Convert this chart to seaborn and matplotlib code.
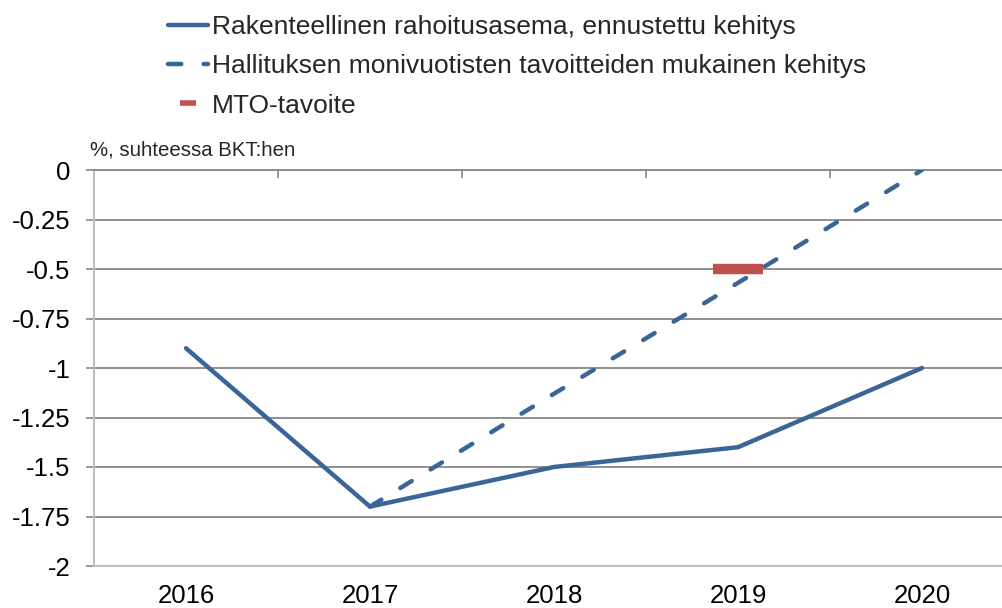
import matplotlib
matplotlib.use("Agg")
import matplotlib.pyplot as plt
from matplotlib.lines import Line2D
import pandas as pd
import seaborn as sns

years = [2016, 2017, 2018, 2019, 2020]
rakenteellinen = [-0.9, -1.7, -1.5, -1.4, -1.0]
tavoite_years = [2017, 2018, 2019, 2020]
tavoite = [-1.7, -1.13, -0.57, 0.0]
mto_year = [2019]
mto_value = [-0.5]

labels = [
    "Rakenteellinen rahoitusasema, ennustettu kehitys",
    "Hallituksen monivuotisten tavoitteiden mukainen kehitys",
    "MTO-tavoite",
]
ylabel = "%, suhteessa BKT:hen"

BLUE = "#3A6597"
RED = "#C0504D"
GRID = "#878787"
LIGHT = "#BFBFBF"
LW = 3.2

sns.set_theme(style="white")
plt.rcParams["font.family"] = ["Liberation Sans", "DejaVu Sans"]

fig = plt.figure(figsize=(10.03, 6.08), dpi=100)
ax = fig.add_axes([94 / 1003, 1 - 566 / 608, 1 - 94 / 1003, (566 - 170) / 608])

df1 = pd.DataFrame({"vuosi": years, "arvo": rakenteellinen})
df2 = pd.DataFrame({"vuosi": tavoite_years, "arvo": tavoite})

sns.lineplot(data=df1, x="vuosi", y="arvo", ax=ax, color=BLUE, lw=LW,
             solid_capstyle="round", solid_joinstyle="round", zorder=3)
sns.lineplot(data=df2, x="vuosi", y="arvo", ax=ax, color=BLUE, lw=LW,
             dashes=False, zorder=3)
dash_line = ax.get_lines()[-1]
dash_line.set_dashes((3.0, 5.0))
dash_line.set_dash_capstyle("round")

ax.plot(mto_year, mto_value, ls="none", marker="_", ms=36, mew=7.5,
        color=RED, zorder=4)

ax.set_xlim(years[0] - 0.5, years[0] - 0.5 + (1003 - 94) / 184)
ax.set_ylim(-2, 0)
ax.set_yticks([-2, -1.75, -1.5, -1.25, -1, -0.75, -0.5, -0.25, 0])
ax.set_yticklabels(["-2", "-1.75", "-1.5", "-1.25", "-1", "-0.75", "-0.5", "-0.25", "0"])
ax.set_xticks(years)
ax.set_xticklabels([str(y) for y in years])
ax.set_xticks([y + 0.5 for y in years[:-1]], minor=True)
ax.set_xlabel("")
ax.set_ylabel("")

ax.yaxis.grid(True, color=GRID, lw=1.3)
ax.set_axisbelow(True)
ax.spines["right"].set_visible(False)
ax.spines["top"].set_color(GRID)
ax.spines["top"].set_linewidth(1.3)
ax.spines["left"].set_color(LIGHT)
ax.spines["left"].set_linewidth(1.5)
ax.spines["bottom"].set_color(LIGHT)
ax.spines["bottom"].set_linewidth(1.5)

ax.tick_params(axis="y", which="major", left=True, length=6, width=1.2,
               color=GRID, direction="out", pad=11, labelsize=18.5, labelcolor="black")
ax.tick_params(axis="x", which="major", bottom=False, top=False, length=0,
               pad=13, labelsize=18.5, labelcolor="black")
ax.tick_params(axis="x", which="minor", top=True, bottom=False, length=6,
               width=1.2, color=GRID, direction="in")

fig.text(90 / 1003, 1 - 150 / 608, ylabel, fontsize=14.7, va="center", ha="left")

handles = [
    Line2D([], [], color=BLUE, lw=LW, solid_capstyle="round"),
    Line2D([], [], color=BLUE, lw=LW, dashes=(3.0, 5.0), dash_capstyle="round"),
    Line2D([], [], color=RED, ls="none", marker="_", ms=12, mew=4),
]
fig.legend(handles, labels, loc="upper left", bbox_to_anchor=(168 / 1003, 1 - 15 / 608),
           frameon=False, fontsize=19, handlelength=1.52, handletextpad=0.15,
           labelspacing=0.58, borderpad=0, borderaxespad=0)

fig.savefig("out.png", dpi=100)
